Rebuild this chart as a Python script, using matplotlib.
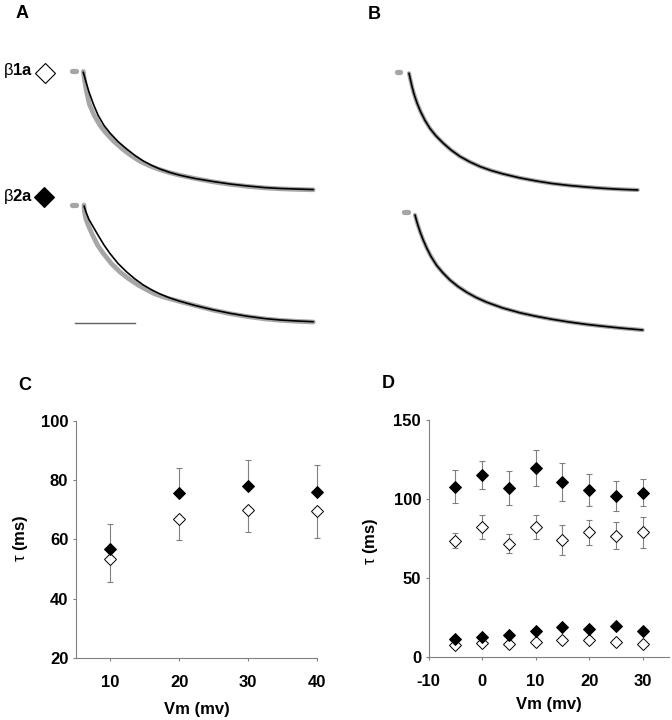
import matplotlib
matplotlib.use("Agg")
import matplotlib.pyplot as plt
from matplotlib.lines import Line2D

plt.rcParams['font.family'] = ['Liberation Sans', 'DejaVu Sans']
plt.rcParams['mathtext.fontset'] = 'custom'
plt.rcParams['mathtext.rm'] = 'Liberation Sans'
plt.rcParams['axes.unicode_minus'] = False

# ---------------------------------------------------------------
# tail current traces (time in ms, current normalised to peak)
# ---------------------------------------------------------------
# A, beta1a
a1_fit_t = [0, 4.5, 9.5, 16.7, 24.5, 34.5, 44.5, 57.8, 72.3, 86.2, 100, 114.5, 127.8,
            144.5, 161.2, 186.2, 216.2, 244.5, 272.8, 302.8, 327.8, 356.2, 383.3]
a1_fit_i = [1.0, 0.919, 0.836, 0.736, 0.644, 0.557, 0.494, 0.423, 0.361, 0.307, 0.261,
            0.223, 0.194, 0.165, 0.142, 0.115, 0.09, 0.069, 0.053, 0.039, 0.032, 0.027, 0.023]
a1_dat_t = [0, 2, 4.5, 10, 17.8, 27.8, 37.8, 51.2, 65.3, 79.5, 93.7, 109.5, 124.5,
            142.8, 161.2, 186.2, 216.2, 244.5, 272.8, 302.8, 327.8, 356.2, 383.3]
a1_dat_i = [1.007, 0.936, 0.861, 0.736, 0.644, 0.557, 0.494, 0.423, 0.361, 0.307, 0.261,
            0.223, 0.194, 0.165, 0.142, 0.115, 0.0875, 0.0667, 0.05, 0.0367, 0.0292, 0.0242, 0.0208]
a1_pre_t = [-18.5, -12.5]
a1_pre_i = [1.01, 1.01]

# A, beta2a
a2_fit_t = [0, 3.3, 8.3, 15.5, 23.3, 33.3, 43.3, 56.7, 71.2, 85, 98.8, 113.3, 126.7,
            143.3, 160, 185, 215, 243.3, 271.7, 301.7, 326.7, 355, 382.2]
a2_fit_i = [1.0, 0.95, 0.8875, 0.825, 0.758, 0.675, 0.604, 0.521, 0.45, 0.392, 0.342,
            0.3, 0.267, 0.233, 0.206, 0.171, 0.135, 0.106, 0.0817, 0.0617, 0.05, 0.0417, 0.0358]
a2_dat_t = [0, 0.8, 3.3, 8.3, 14.2, 22.5, 32.2, 45.5, 60, 75, 90, 105, 118.3,
            138.3, 158.3, 185, 215, 243.3, 271.7, 301.7, 326.7, 355, 382.2]
a2_dat_i = [1.008, 0.95, 0.8875, 0.825, 0.758, 0.675, 0.604, 0.521, 0.45, 0.392, 0.342,
            0.3, 0.267, 0.233, 0.206, 0.171, 0.133, 0.103, 0.079, 0.059, 0.0475, 0.039, 0.0333]
a2_pre_t = [-19.5, -13.5]
a2_pre_i = [1.008, 1.008]

# B, beta1a (data and fit overlap)
b1_fit_t = [0, 2.5, 5, 8.3, 13.3, 19.2, 26.7, 35, 45, 57.2, 70, 85, 101.7, 118.3,
            136.7, 157.2, 185, 211.7, 238.3, 267.2, 295, 322.8, 351.7, 381.2]
b1_fit_i = [1.0, 0.944, 0.89, 0.828, 0.753, 0.682, 0.607, 0.54, 0.478, 0.417, 0.361,
            0.307, 0.261, 0.223, 0.19, 0.161, 0.128, 0.103, 0.0817, 0.065, 0.0525,
            0.0417, 0.0333, 0.0275]
b1_dat_t = b1_fit_t
b1_dat_i = b1_fit_i
b1_pre_t = [-20.5, -14.5]
b1_pre_i = [1.008, 1.008]

# B, beta2a
b2_fit_t = [0, 2.5, 5, 8.3, 13.3, 19.5, 26.7, 36.2, 46.7, 58.3, 71.7, 86.2, 101.7,
            119.5, 146.2, 175, 201.7, 228.3, 257.2, 285, 312.8, 341.7, 379.5]
b2_fit_i = [1.0, 0.954, 0.913, 0.863, 0.796, 0.725, 0.654, 0.579, 0.517, 0.458, 0.404,
            0.356, 0.313, 0.273, 0.225, 0.185, 0.156, 0.131, 0.108, 0.089, 0.0733,
            0.0583, 0.0417]
b2_dat_t = b2_fit_t
b2_dat_i = b2_fit_i
b2_pre_t = [-18, -12]
b2_pre_i = [1.023, 1.023]

scalebar_t = [-15, 85]
scalebar_i = [0.028, 0.028]

# ---------------------------------------------------------------
# C : tau vs Vm
# ---------------------------------------------------------------
c_vm = [10, 20, 30, 40]
c_b2a = [56.8, 75.5, 78.0, 75.9]
c_b2a_err = [8.5, 8.6, 8.6, 9.1]
c_b1a = [53.3, 66.8, 69.8, 69.6]
c_b1a_err = [7.7, 7.1, 7.2, 9.0]

# D : slow and fast tau vs Vm
d_vm = [-5, 0, 5, 10, 15, 20, 25, 30]
d_b2a_slow = [107.9, 115.0, 107.0, 119.5, 110.8, 105.8, 102.0, 104.1]
d_b2a_slow_err = [10.3, 8.9, 11.0, 11.3, 12.2, 10.3, 9.3, 8.3]
d_b1a_slow = [73.5, 82.2, 71.6, 82.2, 74.2, 78.8, 76.7, 78.8]
d_b1a_slow_err = [4.8, 7.8, 6.0, 7.8, 9.4, 8.2, 8.6, 9.5]
d_b2a_fast = [11.4, 12.6, 13.9, 16.2, 18.7, 17.5, 19.4, 16.4]
d_b1a_fast = [7.8, 8.8, 8.0, 9.3, 11.0, 11.0, 9.3, 8.2]


W, H = 672, 720
fig = plt.figure(figsize=(W / 100, H / 100), dpi=100)

GRAY = '#a6a6a6'
MS_PX = 0.6     # pixels per ms
I_PX = 120      # pixels per unit of normalised current


def trace_axes(x0, y0):
    left = x0 - 25 * MS_PX
    top = y0 - 0.08 * I_PX
    ax = fig.add_axes([left / W, 1 - (top + 1.16 * I_PX) / H,
                       420 * MS_PX / W, 1.16 * I_PX / H])
    ax.set_xlim(-25, 395)
    ax.set_ylim(-0.08, 1.08)
    ax.axis('off')
    ax.patch.set_alpha(0)
    return ax


def draw_trace(ax, pre_t, pre_i, dat_t, dat_i, fit_t, fit_i, gray_lw):
    ax.plot(pre_t, pre_i, color=GRAY, lw=3.8, solid_capstyle='round', clip_on=False)
    ax.plot(dat_t, dat_i, color=GRAY, lw=gray_lw, solid_capstyle='round',
            solid_joinstyle='round', clip_on=False)
    ax.plot(fit_t, fit_i, color='black', lw=1.2, solid_capstyle='round',
            solid_joinstyle='round', clip_on=False)


ax = trace_axes(83.3, 72.3)
draw_trace(ax, a1_pre_t, a1_pre_i, a1_dat_t, a1_dat_i, a1_fit_t, a1_fit_i, 3.4)
ax = trace_axes(84, 206)
draw_trace(ax, a2_pre_t, a2_pre_i, a2_dat_t, a2_dat_i, a2_fit_t, a2_fit_i, 3.4)
ax.plot(scalebar_t, scalebar_i, color='#606060', lw=1.0, clip_on=False)
ax = trace_axes(409, 73.3)
draw_trace(ax, b1_pre_t, b1_pre_i, b1_dat_t, b1_dat_i, b1_fit_t, b1_fit_i, 3.0)
ax = trace_axes(415, 215)
draw_trace(ax, b2_pre_t, b2_pre_i, b2_dat_t, b2_dat_i, b2_fit_t, b2_fit_i, 3.0)

# beta labels with symbols
fig.text(3 / W, 1 - 71 / H, r'$\mathrm{\beta}$1a', fontsize=12, fontweight='bold',
         ha='left', va='center')
fig.text(3 / W, 1 - 196 / H, r'$\mathrm{\beta}$2a', fontsize=12, fontweight='bold',
         ha='left', va='center')
fig.add_artist(Line2D([45 / W], [1 - 72.5 / H], marker='D', ms=10, mfc='white',
                      mec='black', mew=0.8, transform=fig.transFigure))
fig.add_artist(Line2D([44 / W], [1 - 197 / H], marker='D', ms=10, mfc='black',
                      mec='black', mew=0.8, transform=fig.transFigure))


def style_axes(ax):
    for s in ['top', 'right']:
        ax.spines[s].set_visible(False)
    for s in ['left', 'bottom']:
        ax.spines[s].set_color('#808080')
        ax.spines[s].set_linewidth(0.8)
    ax.tick_params(direction='out', length=2.5, width=0.8, color='#808080',
                   labelsize=12)
    ax.tick_params(axis='x', pad=10)
    ax.tick_params(axis='y', pad=3)
    for lab in ax.get_xticklabels() + ax.get_yticklabels():
        lab.set_fontweight('bold')


EB = dict(fmt='none', ecolor='#808080', elinewidth=0.8, capsize=2, capthick=0.8,
          zorder=1, clip_on=False)
MK = dict(ls='none', marker='D', ms=6, mew=0.7, mec='black', clip_on=False)

# panel C
axc = fig.add_axes([76 / W, 1 - 658 / H, 241 / W, 237.3 / H])
axc.errorbar(c_vm, c_b1a, yerr=[c_b1a_err, [0] * len(c_vm)], **EB)
axc.errorbar(c_vm, c_b2a, yerr=[[0] * len(c_vm), c_b2a_err], **EB)
axc.plot(c_vm, c_b1a, mfc='white', zorder=3, **MK)
axc.plot(c_vm, c_b2a, mfc='black', zorder=4, **MK)
axc.set_xlim(5, 40)
axc.set_ylim(20, 100)
axc.set_xticks([10, 20, 30, 40])
axc.set_yticks([20, 40, 60, 80, 100])
style_axes(axc)
axc.set_xlabel('Vm (mv)', fontsize=12, fontweight='bold', va='center')
axc.set_ylabel(r'$\mathrm{\tau}$ (ms)', fontsize=12, fontweight='bold', va='center')
axc.xaxis.set_label_coords(0.502, -0.219)
axc.yaxis.set_label_coords(-0.229, 0.506)

# panel D
axd = fig.add_axes([428.7 / W, 1 - 657 / H, 240.6 / W, 237 / H])
axd.errorbar(d_vm, d_b1a_slow, yerr=d_b1a_slow_err, **EB)
axd.errorbar(d_vm, d_b2a_slow, yerr=d_b2a_slow_err, **EB)
axd.plot(d_vm, d_b1a_slow, mfc='white', zorder=3, **MK)
axd.plot(d_vm, d_b2a_slow, mfc='black', zorder=4, **MK)
axd.plot(d_vm, d_b1a_fast, mfc='white', zorder=3, **MK)
axd.plot(d_vm, d_b2a_fast, mfc='black', zorder=4, **MK)
axd.set_xlim(-10, 35)
axd.set_ylim(0, 150)
axd.set_xticks([-10, 0, 10, 20, 30])
axd.set_yticks([0, 50, 100, 150])
style_axes(axd)
axd.set_xlabel('Vm (mv)', fontsize=12, fontweight='bold', va='center')
axd.set_ylabel(r'$\mathrm{\tau}$ (ms)', fontsize=12, fontweight='bold', va='center')
axd.xaxis.set_label_coords(0.5, -0.2025)
axd.yaxis.set_label_coords(-0.24, 0.49)

# panel letters
for letter, x, y in [('A', 22, 13), ('B', 374, 14.5), ('C', 25, 385.5), ('D', 388.5, 383.5)]:
    fig.text(x / W, 1 - y / H, letter, fontsize=13, fontweight='bold',
             ha='center', va='center')

fig.savefig('out.png', dpi=100)
